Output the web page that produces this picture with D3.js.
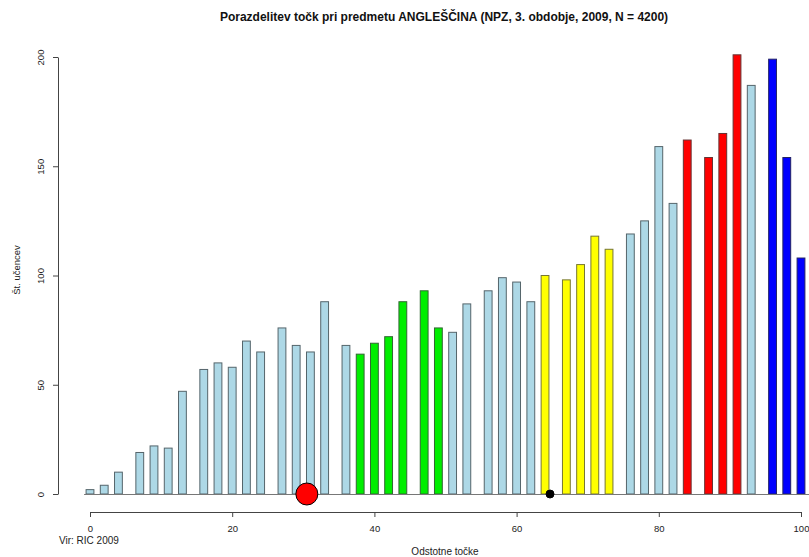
<!DOCTYPE html>
<html>
<head>
<meta charset="utf-8">
<script src="https://cdn.jsdelivr.net/npm/d3@7"></script>
<style>
  html, body { margin: 0; padding: 0; background: #fff; }
  svg { display: block; font-family: "Liberation Sans", Arial, sans-serif; }
</style>
</head>
<body>
<svg id="chart" width="809" height="557"></svg>
<script>
// --- data ---
const points = [0, 2, 4, 7, 9, 11, 13, 16, 18, 20, 22, 24, 27, 29, 31, 33, 36, 38, 40, 42, 44, 47, 49,
                51, 53, 56, 58, 60, 62, 64, 67, 69, 71, 73, 76, 78, 80, 82, 84, 87, 89, 91, 93, 96, 98, 100];
const counts = [2, 4, 10, 19, 22, 21, 47, 57, 60, 58, 70, 65, 76, 68, 65, 88, 68, 64, 69, 72, 88, 93, 76,
                74, 87, 93, 99, 97, 88, 100, 98, 105, 118, 112, 119, 125, 159, 133, 162, 154, 165, 201, 187, 199, 154, 108];
// grade band of each bar (lb = no band)
const bands = ["lb","lb","lb","lb","lb","lb","lb","lb","lb","lb","lb","lb","lb","lb","lb","lb","lb",
               "g","g","g","g","g","g",
               "lb","lb","lb","lb","lb","lb",
               "y","y","y","y","y",
               "lb","lb","lb","lb",
               "r","r","r","r",
               "lb",
               "b","b","b"];
const xTicks = [0, 20, 40, 60, 80, 100];
const yTicks = [0, 50, 100, 150, 200];
// markers on the baseline: [position, radius, colour]
const markers = [[30.5, 11, "#ff0000"], [64.7, 4, "#000000"]];

const title = "Porazdelitev točk pri predmetu ANGLEŠČINA (NPZ, 3. obdobje, 2009, N = 4200)";

const fill = { lb: "#add8e6", g: "#00ee00", y: "#ffff00", r: "#ff0000", b: "#0000ff" };
const edge = { lb: "#55656b", g: "#336633", y: "#777733", r: "#663333", b: "#222266" };

const svg = d3.select("#chart");
const x = d3.scaleLinear().domain([0, 100]).range([90, 801]);
const y = d3.scaleLinear().domain([0, 200]).range([494, 57]);
const bw = x(1.1) - x(0);

// bars
svg.append("g").selectAll("rect")
  .data(points)
  .join("rect")
  .attr("x", (d) => x(d) - bw / 2)
  .attr("y", (d, i) => y(counts[i]))
  .attr("width", bw)
  .attr("height", (d, i) => y(0) - y(counts[i]))
  .attr("fill", (d, i) => fill[bands[i]])
  .attr("stroke", (d, i) => edge[bands[i]])
  .attr("stroke-width", 1);

// baseline
svg.append("line")
  .attr("x1", x(0) - bw / 2 - 2).attr("x2", 809)
  .attr("y1", y(0) + 0.5).attr("y2", y(0) + 0.5)
  .attr("stroke", "#777").attr("stroke-width", 1);

// markers
svg.append("g").selectAll("circle")
  .data(markers)
  .join("circle")
  .attr("cx", (d) => x(d[0]))
  .attr("cy", y(0))
  .attr("r", (d) => d[1])
  .attr("fill", (d) => d[2])
  .attr("stroke", "#000")
  .attr("stroke-width", 1);

// y axis (R style, labels rotated)
const yAxis = svg.append("g")
  .attr("transform", "translate(58,0)")
  .call(d3.axisLeft(y).tickValues(yTicks).tickSize(5).tickSizeOuter(0));
yAxis.select(".domain").attr("stroke", "#444");
yAxis.selectAll(".tick line").attr("stroke", "#444");
yAxis.selectAll(".tick text")
  .attr("font-size", 9.5).attr("fill", "#222")
  .attr("x", 0).attr("dy", 0)
  .attr("text-anchor", "middle")
  .attr("transform", "translate(-14,0) rotate(-90)");

// x axis
const xAxis = svg.append("g")
  .attr("transform", "translate(0,512)")
  .call(d3.axisBottom(x).tickValues(xTicks).tickSize(5).tickSizeOuter(0));
xAxis.select(".domain").attr("stroke", "#444");
xAxis.selectAll(".tick line").attr("stroke", "#444");
xAxis.selectAll(".tick text")
  .attr("font-size", 9.5).attr("fill", "#222")
  .attr("y", 13);

// texts
svg.append("text")
  .attr("x", 444).attr("y", 21)
  .attr("text-anchor", "middle")
  .attr("font-size", 12).attr("font-weight", "bold").attr("fill", "#111")
  .text(title);

svg.append("text")
  .attr("transform", "translate(20,270) rotate(-90)")
  .attr("text-anchor", "middle")
  .attr("font-size", 9.5).attr("fill", "#222")
  .text("Št. učencev");

svg.append("text")
  .attr("x", 445).attr("y", 555)
  .attr("text-anchor", "middle")
  .attr("font-size", 10).attr("fill", "#222")
  .text("Odstotne točke");

svg.append("text")
  .attr("x", 59).attr("y", 544)
  .attr("font-size", 10).attr("fill", "#222")
  .text("Vir: RIC 2009");
</script>
</body>
</html>
